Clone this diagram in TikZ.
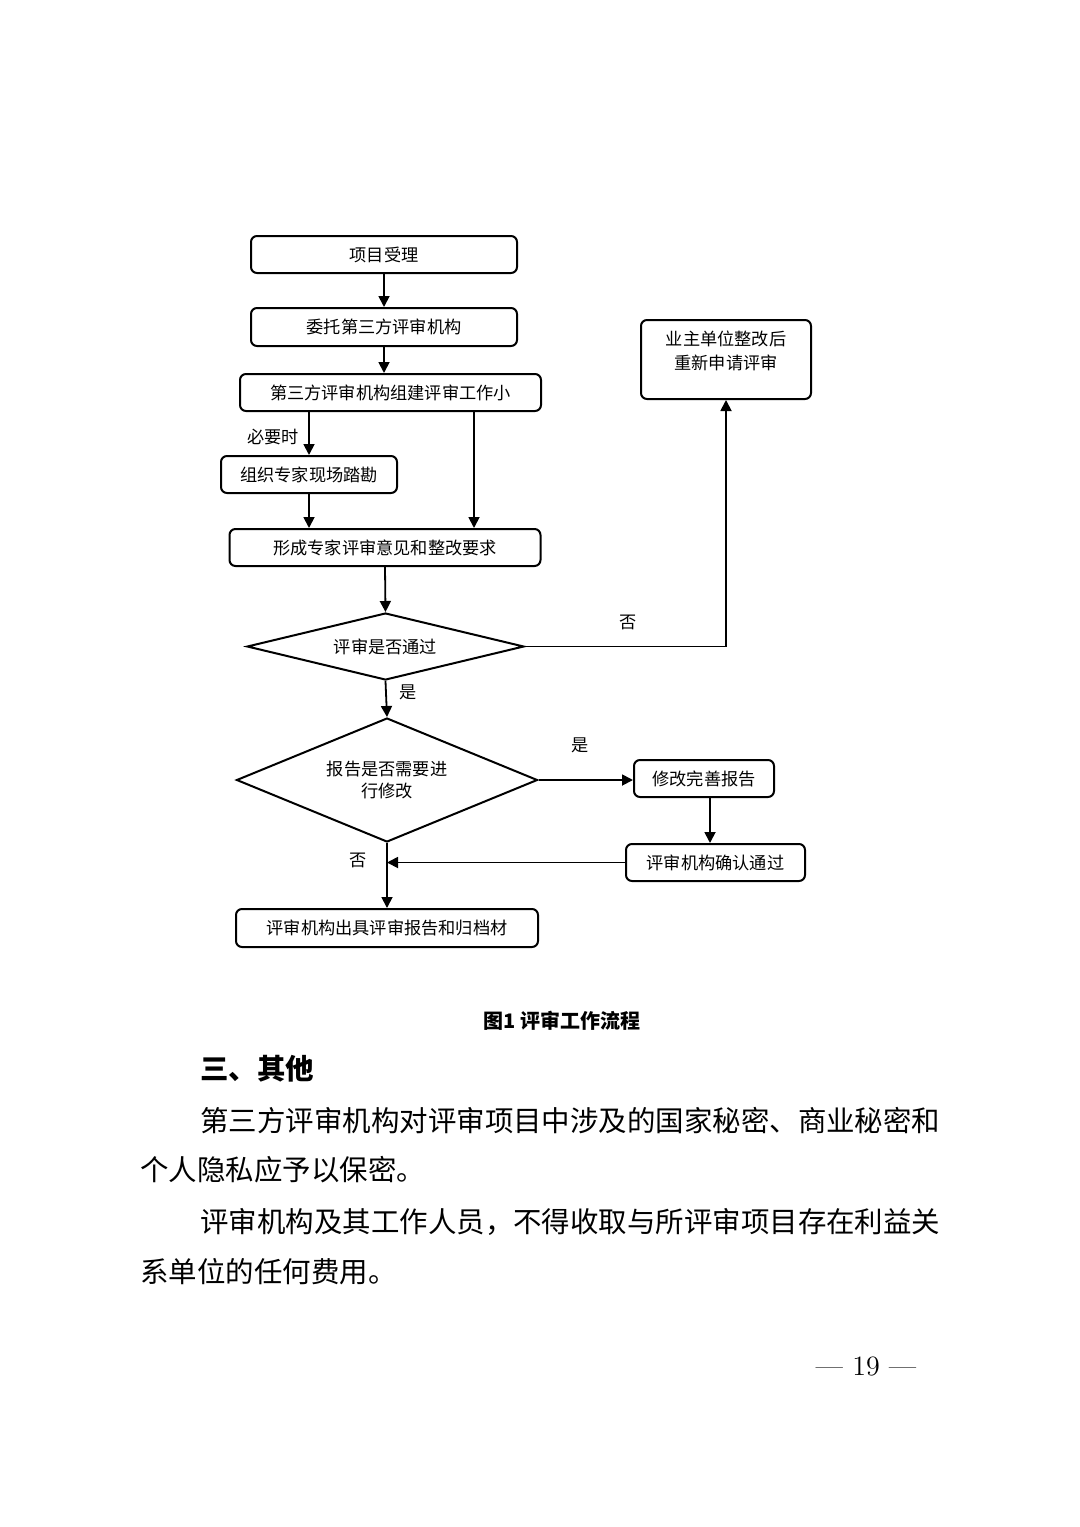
\documentclass[tikz,border=0pt]{standalone}
\usepackage{fontspec}
\newfontfamily\cjk{Noto Sans CJK SC}
\usetikzlibrary{shapes.geometric,arrows.meta}
\begin{document}
\begin{tikzpicture}[x=0.5pt,y=-0.5pt,
    box/.style={draw,rounded corners=3pt,line width=1pt,inner sep=0pt,
      minimum height=18.5pt,font=\cjk\fontsize{8.6}{12}\selectfont,align=center},
    choice/.style={draw,diamond,line width=1pt,inner sep=0pt,
      font=\cjk\fontsize{8.6}{11}\selectfont,align=center},
    tag/.style={inner sep=0pt,font=\cjk\fontsize{8.6}{11}\selectfont},
    arr/.style={line width=0.9pt,-{Triangle[length=5.5pt,width=5.5pt]}},
    body/.style={anchor=west,inner sep=0pt,font=\cjk\fontsize{14.23}{16}\selectfont}]
  \useasboundingbox[fill=white] (0,0) rectangle (1080,1527);

  % flow chart
  \node[box,minimum width=133pt] (accept) at (384,254.5) {项目受理};
  \node[box,minimum width=133pt,minimum height=19pt] (entrust) at (384,327) {委托第三方评审机构};
  \node[box,minimum width=150.5pt] (team) at (390.5,392.5) {第三方评审机构组建评审工作小};
  \node[box,minimum width=88pt] (survey) at (309,474.5) {组织专家现场踏勘};
  \node[box,minimum width=155.5pt] (opinion) at (385,547.5) {形成专家评审意见和整改要求};
  \node[choice,aspect=4.13,minimum width=138.5pt,minimum height=33.5pt] (pass) at (385.5,646.5) {评审是否通过};
  \node[box,minimum width=85pt,minimum height=39.5pt,text depth=9.5pt] (reapply) at (726,359.5) {业主单位整改后\\重新申请评审};
  \node[choice,aspect=2.43,minimum width=150.5pt,minimum height=62pt] (revise) at (387,780) {报告是否需要进\\行修改};
  \node[box,minimum width=70pt] (improve) at (704,778.5) {修改完善报告};
  \node[box,minimum width=89.5pt] (confirm) at (715.5,862.5) {评审机构确认通过};
  \node[box,minimum width=151pt,minimum height=19pt] (issue) at (387,928) {评审机构出具评审报告和归档材};

  \node[tag] (needed) at (273,437) {必要时};
  \node[tag] (nopass) at (628,622) {否};
  \node[tag] (yespass) at (408,692) {是};
  \node[tag] (yesrev) at (580,745) {是};
  \node[tag] (norev) at (358,860) {否};

  \draw[arr] (accept) -- (entrust);
  \draw[arr] (entrust) -- (entrust |- team.north);
  \draw[arr] (survey.north |- team.south) -- (survey.north);
  \draw[arr] ([xshift=41.75pt]team.south) -- ([xshift=41.75pt]team.south |- opinion.north);
  \draw[arr] (survey.south) -- (survey.south |- opinion.north);
  \draw[arr] (opinion.south) -- (pass.north);
  \draw[arr] (pass.east) -| (reapply.south);
  \draw[arr] (pass.south) -- (revise.north);
  \draw[arr] (revise.east) -- (revise.east -| improve.west);
  \draw[arr] ([xshift=3pt]improve.south) -- ([xshift=3pt]improve.south |- confirm.north);
  \draw[arr] (revise.south) -- (issue.north);
  \draw[arr] (confirm.west) -- (confirm.west -| revise.south);

  % page text
  \node[inner sep=0pt,font=\cjk\bfseries\fontsize{10}{12}\selectfont] (caption) at (562,1021) {图1 评审工作流程};
  \node[body,font=\cjk\bfseries\fontsize{14.23}{16}\selectfont] (heading) at (200,1069) {三、其他};
  \foreach[count=\i] \x/\y/\t in {200/1121/{第三方评审机构对评审项目中涉及的国家秘密、商业秘密和},
      140/1170/{个人隐私应予以保密。},
      200/1222/{评审机构及其工作人员，不得收取与所评审项目存在利益关},
      140/1272/{系单位的任何费用。}} {
    \node[body] (line\i) at (\x,\y) {\t};
  }
  \node[inner sep=0pt,font=\fontsize{14}{16}\selectfont] (pagenum) at (866,1366) {--- 19 ---};
\end{tikzpicture}
\end{document}
